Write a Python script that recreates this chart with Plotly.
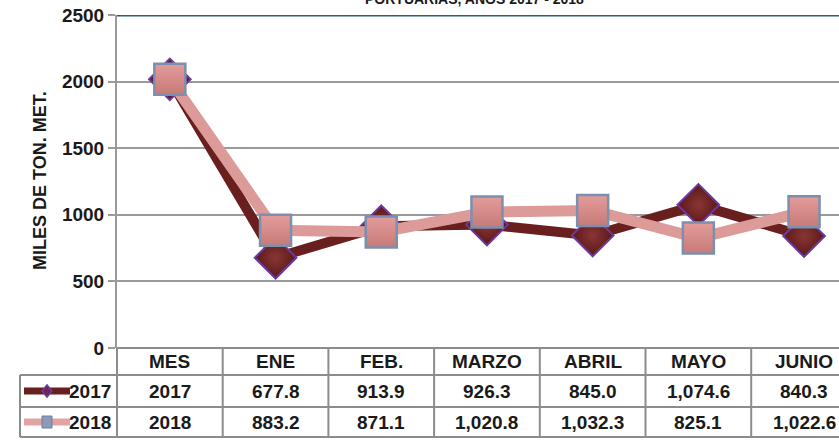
import plotly.graph_objects as go

categories = ["MES", "ENE", "FEB.", "MARZO", "ABRIL", "MAYO", "JUNIO"]
series_names = ["2017", "2018"]
values_2017 = [2017, 677.8, 913.9, 926.3, 845.0, 1074.6, 840.3]
values_2018 = [2018, 883.2, 871.1, 1020.8, 1032.3, 825.1, 1022.6]
labels_2017 = ["2017", "677.8", "913.9", "926.3", "845.0", "1,074.6", "840.3"]
labels_2018 = ["2018", "883.2", "871.1", "1,020.8", "1,032.3", "825.1", "1,022.6"]
y_ticks = [0, 500, 1000, 1500, 2000, 2500]

W, H = 839, 443
ML, MR, MT, MB = 117, 0, 15, 95
PW, PH = W - ML - MR, H - MT - MB
XR = [-0.5, -0.5 + PW / 105.7]

def px_x(p):  # pixel -> paper x
    return (p - ML) / PW

def px_y(p):  # pixel -> paper y
    return (H - MB - p) / PH

def cat_paper(v):
    return (v - XR[0]) / (XR[1] - XR[0])

DARK = "#6a1f1f"
PINK = "#dc9a98"
FONT = "Liberation Sans, Arial, sans-serif"
GRID = "#9a9a9a"

fig = go.Figure()
x_idx = list(range(len(categories)))
fig.add_trace(go.Scatter(
    x=x_idx, y=values_2017, mode="lines+markers", name=series_names[0],
    line=dict(color=DARK, width=10),
    marker=dict(symbol="diamond", size=32, color="#5a1818",
                line=dict(color="#6a3aa0", width=2),
                gradient=dict(type="radial", color="#8a3535")),
    cliponaxis=False, showlegend=False))
fig.add_trace(go.Scatter(
    x=x_idx, y=values_2018, mode="lines+markers", name=series_names[1],
    line=dict(color=PINK, width=11),
    marker=dict(symbol="square", size=31, color="#e39c9a",
                line=dict(color="#7d8fae", width=2.5),
                gradient=dict(type="vertical", color="#c77a78")),
    cliponaxis=False, showlegend=False))

shapes = []
annotations = []

# top border line
shapes.append(dict(type="line", xref="paper", yref="y", x0=0, x1=1, y0=2500, y1=2500,
                   line=dict(color="#2f5d6c", width=3)))

# table grid
row_px = [348, 375, 407, 437]
left_px = 20
bounds = [cat_paper(i - 0.5) for i in range(len(categories) + 1)]
tc = "#8c8c8c"
for k, rp in enumerate(row_px):
    x0 = 0 if k == 0 else px_x(left_px)
    shapes.append(dict(type="line", xref="paper", yref="paper", x0=x0, x1=1.02,
                       y0=px_y(rp), y1=px_y(rp), line=dict(color=tc, width=2)))
for b in bounds:
    if b <= 1.0:
        shapes.append(dict(type="line", xref="paper", yref="paper", x0=b, x1=b,
                           y0=px_y(row_px[0]), y1=px_y(row_px[-1]), line=dict(color=tc, width=2)))
shapes.append(dict(type="line", xref="paper", yref="paper", x0=px_x(left_px), x1=px_x(left_px),
                   y0=px_y(row_px[1]), y1=px_y(row_px[-1]), line=dict(color=tc, width=2)))

row_mid = [(row_px[i] + row_px[i + 1]) / 2 for i in range(3)]
tf = dict(family=FONT, size=19, color="#1a1a1a")
for i, c in enumerate(categories):
    for r, txt in enumerate([c, labels_2017[i], labels_2018[i]]):
        annotations.append(dict(x=i, y=px_y(row_mid[r]), xref="x", yref="paper",
                                xanchor="center", yanchor="middle", text=f"<b>{txt}</b>",
                                showarrow=False, font=tf))

# legend keys
for r, (nm, lc, kind) in enumerate([(series_names[0], DARK, "d"), (series_names[1], "#e3a3a3", "s")]):
    yc = px_y(row_mid[r + 1])
    shapes.append(dict(type="line", xref="paper", yref="paper", x0=px_x(24), x1=px_x(70),
                       y0=yc, y1=yc, line=dict(color=lc, width=7)))
    cx = px_x(47)
    dx = 5 / PW
    dy = 6 / PH
    if kind == "d":
        path = f"M {cx-dx} {yc} L {cx} {yc+dy} L {cx+dx} {yc} L {cx} {yc-dy} Z"
        shapes.append(dict(type="path", xref="paper", yref="paper", path=path,
                           fillcolor="#6a2a4a", line=dict(color="#6a3aa0", width=1.5)))
    else:
        shapes.append(dict(type="rect", xref="paper", yref="paper", x0=cx - dx, x1=cx + dx,
                           y0=yc - dy, y1=yc + dy, fillcolor="#8a9ab8", line=dict(color="#6f7fa0", width=1)))
    annotations.append(dict(x=px_x(113), y=yc, xref="paper", yref="paper", xanchor="right",
                            yanchor="middle", text=f"<b>{nm}</b>", showarrow=False, font=tf))

# y-axis title
annotations.append(dict(x=px_x(40), y=px_y(181), xref="paper", yref="paper", xanchor="center",
                        yanchor="middle", text="<b>MILES DE TON. MET.</b>",
                        textangle=-90, showarrow=False, font=dict(family=FONT, size=18, color="#1a1a1a")))
# title (mostly outside the top edge in the reference)
annotations.append(dict(x=px_x(474), y=px_y(9), xref="paper", yref="paper", xanchor="center",
                        yanchor="bottom", text="<b>PORTUARIAS, AÑOS 2017 - 2018</b>", showarrow=False,
                        font=dict(family=FONT, size=14, color="#1a1a1a")))

fig.update_layout(
    width=W, height=H, margin=dict(l=ML, r=MR, t=MT, b=MB),
    paper_bgcolor="white", plot_bgcolor="white",
    shapes=shapes, annotations=annotations,
    xaxis=dict(range=XR, showticklabels=False, showgrid=False, zeroline=False,
               showline=False, ticks=""),
    yaxis=dict(range=[0, 2500], tickvals=y_ticks, ticktext=[f"<b>{v}</b>" for v in y_ticks],
               showgrid=True, gridcolor=GRID, gridwidth=2, zeroline=False,
               showline=True, linecolor=GRID, linewidth=2, ticks="outside", ticklen=7,
               tickcolor=GRID, tickwidth=1.5,
               tickfont=dict(family=FONT, size=19, color="#1a1a1a")),
    font=dict(family=FONT),
)

fig.write_html("out.html", config={"displayModeBar": False},
               post_script="document.body.style.margin='0';document.body.style.overflow='hidden';")
